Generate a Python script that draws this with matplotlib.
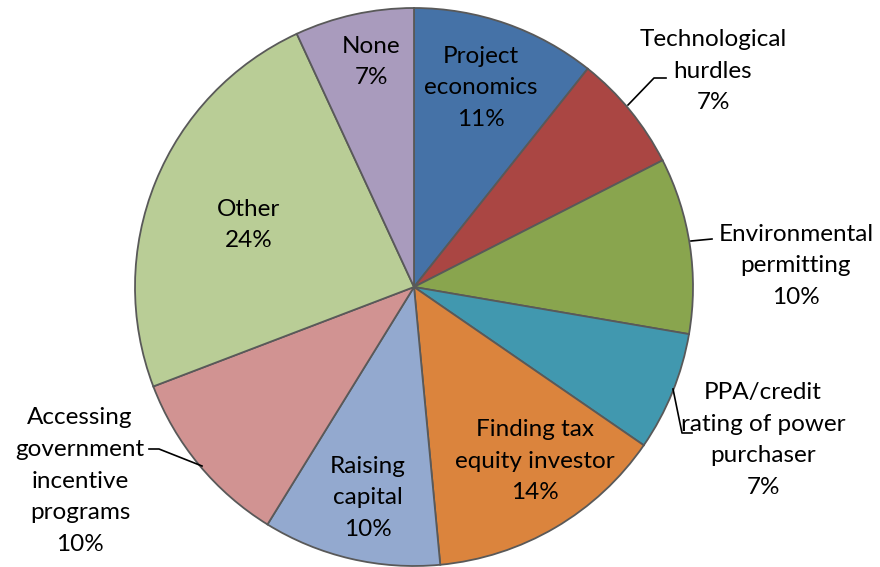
import matplotlib
matplotlib.use('Agg')
import matplotlib.pyplot as plt
import numpy as np

# data
categories = ['Project\neconomics', 'Technological\nhurdles', 'Environmental\npermitting',
              'PPA/credit\nrating of power\npurchaser', 'Finding tax\nequity investor',
              'Raising\ncapital', 'Accessing\ngovernment\nincentive\nprograms', 'Other', 'None']
shares = [10.7, 6.8, 10.2, 6.9, 13.9, 10.3, 10.4, 23.9, 6.9]
pct_labels = ['11%', '7%', '10%', '7%', '14%', '10%', '10%', '24%', '7%']
colors = ['#4572A7', '#AA4643', '#89A54E', '#4198AF', '#DB843D',
          '#93A9CF', '#D19392', '#B9CD96', '#A99BBD']

W, H = 880, 567
CX, CY, R = 414, 287, 279  # pie centre / radius in pixels


def px(x, y):
    # pixel (top-left origin) -> data coords
    return (x - CX) / R, (CY - y) / R


fig = plt.figure(figsize=(W / 100, H / 100), dpi=100)
ax = fig.add_axes([0, 0, 1, 1])

wedges, _ = ax.pie(shares, colors=colors, startangle=90, counterclock=False, radius=1,
                   wedgeprops=dict(edgecolor='#595959', linewidth=1.3))

ax.set_xlim(-CX / R, (W - CX) / R)
ax.set_ylim(-(H - CY) / R, CY / R)
ax.set_aspect('equal')
ax.axis('off')

font = dict(family=['Lato', 'DejaVu Sans'], fontsize=17.5, color='black', linespacing=1.64)

# inside labels: text centre (pixels)
inside = {0: (481, 88), 4: (535, 461), 5: (368, 498), 7: (249, 225), 8: (371, 62)}
for i, tc in inside.items():
    x, y = px(*tc)
    ax.text(x, y, categories[i] + '\n' + pct_labels[i], ha='center', va='center', **font)

# outside labels: text centre and leader polyline (pixels)
outside = {
    1: ((713, 71), [(628, 105), (654, 78), (666, 78)]),
    2: ((796, 266), [(691, 241), (712, 239)]),
    3: ((763, 440), [(673, 389), (682, 433), (692, 433)]),
    6: ((80, 481), [(202, 466), (159, 449), (149, 449)]),
}
for i, (tc, pts) in outside.items():
    x, y = px(*tc)
    ax.text(x, y, categories[i] + '\n' + pct_labels[i], ha='center', va='center', **font)
    lx, ly = zip(*[px(*p) for p in pts])
    ax.plot(lx, ly, color='black', linewidth=1.2)

fig.savefig('out.png', dpi=100, facecolor='white')
